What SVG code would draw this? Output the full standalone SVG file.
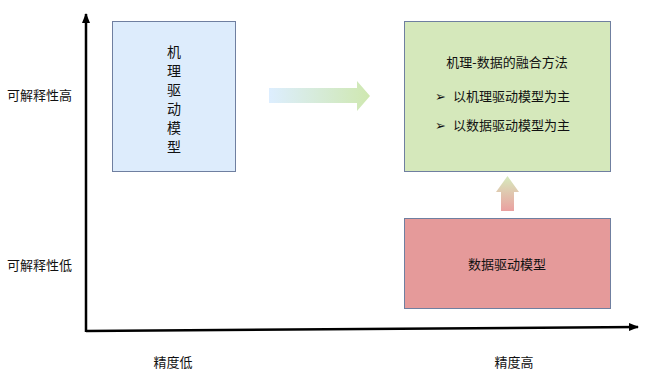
<svg xmlns="http://www.w3.org/2000/svg" width="654" height="382" viewBox="0 0 654 382">
<defs>
<style>
text{font-family:"Liberation Serif","Noto Sans CJK SC",serif;font-size:13px;fill:#111;dominant-baseline:central}
.c{text-anchor:middle}
.box{stroke:#6f7fa0;stroke-width:1}
.axis{stroke:#000;stroke-width:2.5;fill:none}
</style>
<marker id="ah" viewBox="0 0 10 10" refX="9" refY="5" markerWidth="4" markerHeight="4" orient="auto-start-reverse" markerUnits="strokeWidth">
<path d="M0,1 L10,5 L0,9 z" fill="#000"/>
</marker>
<linearGradient id="gh" x1="0" y1="0" x2="1" y2="0">
<stop offset="0" stop-color="#ddeeff"/>
<stop offset="1" stop-color="#cfe8b0"/>
</linearGradient>
<linearGradient id="gv" x1="0" y1="0" x2="0" y2="1">
<stop offset="0" stop-color="#d6ebbd"/>
<stop offset="1" stop-color="#eaa0a0"/>
</linearGradient>
</defs>
<rect width="654" height="382" fill="#fff"/>
<g id="connectors">
<path class="axis" d="M86,332 L86,14" marker-end="url(#ah)"/>
<path class="axis" d="M86,331 L638,327" marker-end="url(#ah)"/>
<path d="M269,88 L357,88 L357,81 L370,96 L357,111 L357,103 L269,103 z" fill="url(#gh)"/>
<path d="M501,211 L501,192 L496,192 L507.5,176 L519,192 L514,192 L514,211 z" fill="url(#gv)"/>
</g>
<g id="labels">
<text x="7" y="95">可解释性高</text>
<text x="7" y="265">可解释性低</text>
<text class="c" x="173" y="362">精度低</text>
<text class="c" x="514" y="362">精度高</text>
</g>
<g id="mechanism">
<rect class="box" x="112.5" y="21.5" width="123" height="150" fill="#ddecfc"/>
<text class="c" x="174" y="52" style="font-size:14px">机</text>
<text class="c" x="174" y="71" style="font-size:14px">理</text>
<text class="c" x="174" y="90" style="font-size:14px">驱</text>
<text class="c" x="174" y="109" style="font-size:14px">动</text>
<text class="c" x="174" y="128" style="font-size:14px">模</text>
<text class="c" x="174" y="147" style="font-size:14px">型</text>
</g>
<g id="fusion">
<rect class="box" x="404.5" y="21.5" width="206" height="150" fill="#d5e8bb"/>
<text class="c" x="507" y="62">机理-数据的融合方法</text>
<text x="435" y="96" style="font-size:13px">➢</text>
<text x="453" y="96">以机理驱动模型为主</text>
<text x="435" y="125" style="font-size:13px">➢</text>
<text x="453" y="125">以数据驱动模型为主</text>
</g>
<g id="data">
<rect class="box" x="404.5" y="218.5" width="206" height="90" fill="#e59a9a"/>
<text class="c" x="507" y="264">数据驱动模型</text>
</g>
</svg>
